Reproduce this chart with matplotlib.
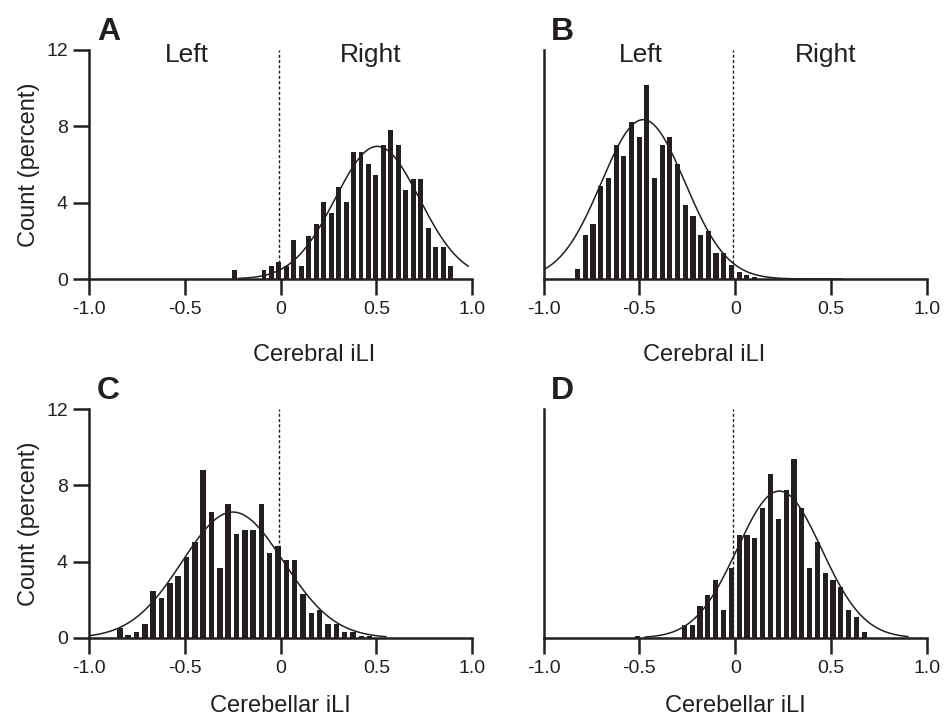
import numpy as np
import matplotlib
matplotlib.use("Agg")
import matplotlib.pyplot as plt

plt.rcParams["font.family"] = ["Liberation Sans", "DejaVu Sans"]

# histogram heights (percent)
a_start, a_step = -0.243, 0.039
a_heights = [0.49, 0.05, 0, 0, 0.49, 0.66, 0.87, 0.66, 2.06, 0.66, 2.27, 2.86,
             4.05, 3.46, 4.82, 4.05, 6.63, 6.63, 6.04, 5.44, 7.01, 7.82, 7.01,
             4.68, 5.24, 5.24, 2.67, 1.68, 1.68, 0.66]

b_start, b_step = -0.822, 0.0401
b_heights = [0.53, 2.33, 2.89, 4.86, 5.28, 7.02, 6.45, 8.21, 7.42, 10.17, 5.28,
             7.02, 7.42, 6.03, 3.88, 3.29, 2.33, 2.49, 1.35, 1.35, 0.74, 0.36,
             0.2, 0.1]

c_start, c_step = -0.84, 0.0435
c_heights = [0.54, 0.14, 0.31, 0.71, 2.48, 2.1, 2.87, 3.27, 4.26, 5.05, 8.79,
             6.61, 3.67, 7.0, 5.44, 5.65, 5.65, 7.0, 4.46, 4.83, 4.08, 4.08,
             2.28, 1.32, 1.49, 0.71, 0.71, 0.31, 0.31, 0.1, 0.08]

d_start, d_step = -0.51, 0.0408
d_heights = [0.12, 0, 0, 0, 0, 0, 0.67, 0.67, 1.66, 2.23, 3.05, 1.47, 3.66,
             5.39, 5.39, 5.22, 6.81, 8.57, 6.21, 7.77, 9.39, 6.81, 3.66, 5.03,
             3.43, 3.05, 2.67, 1.47, 1.08, 0.3]

# fitted normal curves: (mean, sd, peak, x from, x to)
a_fit = (0.505, 0.22, 6.95, -0.22, 0.98)
b_fit = (-0.48, 0.218, 8.35, -1.0, 0.56)
c_fit = (-0.25, 0.265, 6.6, -1.0, 0.55)
d_fit = (0.23, 0.22, 7.7, -0.47, 0.9)

x_ticks = [-1.0, -0.5, 0, 0.5, 1.0]
x_tick_labels = ["-1.0", "-0.5", "0", "0.5", "1.0"]
y_ticks = [0, 4, 8, 12]

# letter, bins, fit, x label, label centre (axes fraction), column, row
panels = [
    ("A", a_start, a_step, a_heights, a_fit, "Cerebral iLI", 0.587, True, True),
    ("B", b_start, b_step, b_heights, b_fit, "Cerebral iLI", 0.418, False, True),
    ("C", c_start, c_step, c_heights, c_fit, "Cerebellar iLI", 0.5, True, False),
    ("D", d_start, d_step, d_heights, d_fit, "Cerebellar iLI", 0.5, False, False),
]

ink = "#231f20"
W, H = 945, 716
fig = plt.figure(figsize=(W / 100, H / 100), dpi=100)

lefts = {True: 89.3, False: 543.5}
widths = {True: 472 - 89.3, False: 927 - 543.5}
baselines = {True: 279, False: 638}

for letter, start, step, heights, fit, xlabel, lab_x, left_col, top_row in panels:
    x0 = lefts[left_col]
    base = baselines[top_row]
    ax = fig.add_axes([x0 / W, 1 - base / H, widths[left_col] / W, 229 / H])

    centers = start + step * np.arange(len(heights))
    ax.bar(centers, heights, width=step * 0.66, color=ink, linewidth=0)

    m, s, peak, lo, hi = fit
    xs = np.linspace(lo, hi, 300)
    ax.plot(xs, peak * np.exp(-(xs - m) ** 2 / (2 * s ** 2)), color=ink, lw=1.1)

    ax.plot([-0.01, -0.01], [0, 12], color=ink, lw=1.0, ls=(0, (2.2, 1.6)))

    ax.set_xlim(-1, 1)
    ax.set_ylim(0, 12)
    for side in ("top", "right"):
        ax.spines[side].set_visible(False)
    for side in ("left", "bottom"):
        ax.spines[side].set_linewidth(1.8)
        ax.spines[side].set_color(ink)

    ax.set_xticks(x_ticks)
    ax.set_xticklabels(x_tick_labels)
    ax.tick_params(axis="both", length=11.5, width=1.8, color=ink,
                   labelsize=14, labelcolor=ink, pad=4)
    if left_col:
        ax.set_yticks(y_ticks)
        ax.set_ylabel("Count (percent)", fontsize=17, color=ink, labelpad=4)
    else:
        ax.set_yticks([])

    ax.set_xlabel(xlabel, fontsize=17, color=ink,
                  labelpad=19 if top_row else 13, x=lab_x)

    if top_row:
        ax.text(-0.49, 11.75, "Left", ha="center", va="center", fontsize=19, color=ink)
        ax.text(0.47, 11.75, "Right", ha="center", va="center", fontsize=19, color=ink)

    ax.text(-0.96, 12.95, letter, ha="left", va="center", fontsize=23,
            fontweight="bold", color=ink, clip_on=False)

fig.savefig("out.png", dpi=100)
